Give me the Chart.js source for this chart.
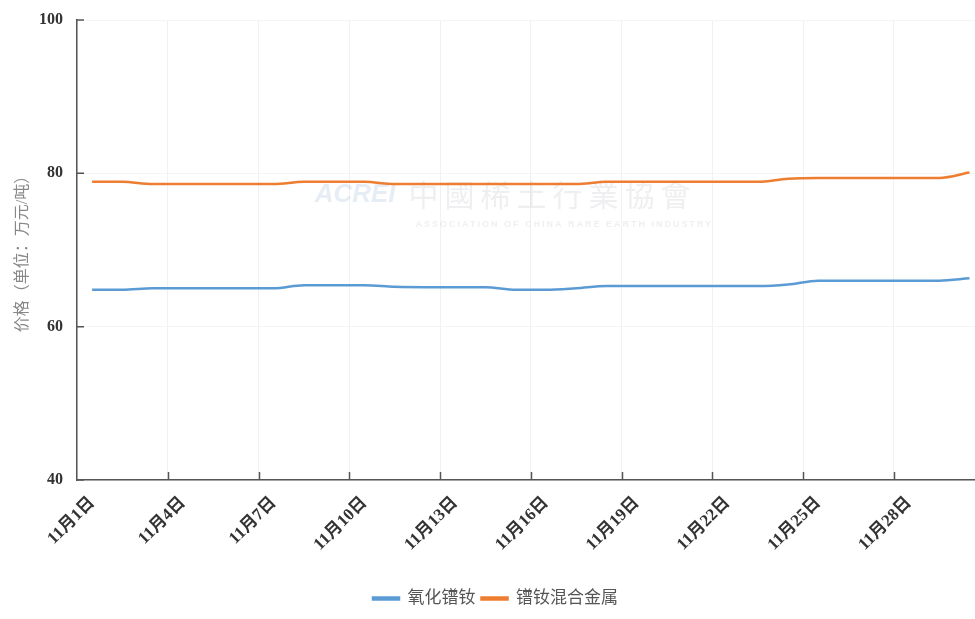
<!DOCTYPE html>
<html lang="zh">
<head>
<meta charset="utf-8">
<title>氧化镨钕 / 镨钕混合金属</title>
<script src="https://cdn.jsdelivr.net/npm/chart.js@4"></script>
<style>
    html, body { margin: 0; padding: 0; background: #fff; overflow: hidden; }
    #caixa { width: 975px; height: 619px; overflow: hidden; }
</style>
</head>
<body>
<div id="caixa"><canvas id="graficoPrecos" width="997" height="619"></canvas></div>
<script>
const dias = [
    '11月1日', '11月2日', '11月3日', '11月4日', '11月5日', '11月6日', '11月7日', '11月8日', '11月9日', '11月10日',
    '11月11日', '11月12日', '11月13日', '11月14日', '11月15日', '11月16日', '11月17日', '11月18日', '11月19日', '11月20日',
    '11月21日', '11月22日', '11月23日', '11月24日', '11月25日', '11月26日', '11月27日', '11月28日', '11月29日', '11月30日'
];

const oxidoPrNd = [
    64.8, 64.8, 65.0, 65.0, 65.0, 65.0, 65.0, 65.4, 65.4, 65.4,
    65.2, 65.15, 65.15, 65.15, 64.8, 64.8, 65.0, 65.3, 65.3, 65.3,
    65.3, 65.3, 65.3, 65.5, 66.0, 66.0, 66.0, 66.0, 66.0, 66.3
];

const metalPrNd = [
    78.9, 78.9, 78.6, 78.6, 78.6, 78.6, 78.6, 78.9, 78.9, 78.9,
    78.6, 78.6, 78.6, 78.6, 78.6, 78.6, 78.6, 78.9, 78.9, 78.9,
    78.9, 78.9, 78.9, 79.3, 79.4, 79.4, 79.4, 79.4, 79.4, 80.1
];

const nomesSeries = ['氧化镨钕', '镨钕混合金属'];
const ticksY = [40, 60, 80, 100];

// marcas curtas para dentro, como no original
const marcasInternas = {
    id: 'marcasInternas',
    afterDraw(chart) {
        const ctx = chart.ctx;
        const area = chart.chartArea;
        const x = chart.scales.x;
        const y = chart.scales.y;
        ctx.save();
        ctx.strokeStyle = '#555';
        ctx.lineWidth = 1.5;
        ctx.beginPath();
        y.ticks.forEach((t, i) => {
            const py = y.getPixelForTick(i);
            ctx.moveTo(area.left, py);
            ctx.lineTo(area.left + 7, py);
        });
        const meia = (x.getPixelForValue(1) - x.getPixelForValue(0)) / 2;
        dias.forEach((d, i) => {
            if (i === 0 || i % 3 !== 0) return;
            const px = Math.round(x.getPixelForValue(i) - meia) + 0.5;
            ctx.moveTo(px, area.bottom);
            ctx.lineTo(px, area.bottom - 8);
        });
        ctx.stroke();
        ctx.restore();
    }
};

// marca d'água clarinha no meio do gráfico
const marcaDagua = {
    id: 'marcaDagua',
    beforeDatasetsDraw(chart) {
        const ctx = chart.ctx;
        const area = chart.chartArea;
        const cx = area.left + (area.right - area.left) * 0.47;
        const cy = area.top + (area.bottom - area.top) * 0.38;
        ctx.save();
        ctx.textBaseline = 'middle';
        ctx.fillStyle = 'rgba(170, 190, 220, 0.28)';
        ctx.font = 'italic bold 26px "Liberation Sans"';
        ctx.textAlign = 'right';
        ctx.fillText('ACREI', cx - 108, cy);
        ctx.fillStyle = 'rgba(180, 180, 190, 0.22)';
        ctx.font = '30px "Noto Sans CJK TC"';
        ctx.textAlign = 'left';
        ctx.letterSpacing = '6px';
        ctx.fillText('中國稀土行業協會', cx - 95, cy);
        ctx.font = 'bold 9px "Liberation Sans"';
        ctx.letterSpacing = '2px';
        ctx.fillText('ASSOCIATION OF CHINA RARE EARTH INDUSTRY', cx - 88, cy + 30);
        ctx.restore();
    }
};

function criarGrafico() {
    const ctx = document.getElementById('graficoPrecos').getContext('2d');

    new Chart(ctx, {
        type: 'line',
        data: {
            labels: dias,
            datasets: [
                {
                    label: nomesSeries[0],
                    data: oxidoPrNd,
                    borderColor: '#5b9bd5',
                    backgroundColor: '#5b9bd5',
                    borderWidth: 2.5,
                    pointRadius: 0,
                    cubicInterpolationMode: 'monotone'
                },
                {
                    label: nomesSeries[1],
                    data: metalPrNd,
                    borderColor: '#ed7d31',
                    backgroundColor: '#ed7d31',
                    borderWidth: 2.5,
                    pointRadius: 0,
                    cubicInterpolationMode: 'monotone'
                }
            ]
        },
        options: {
            responsive: false,
            animation: false,
            layout: { padding: { top: 20, right: 6, bottom: 2, left: 0 } },
            plugins: {
                tooltip: { enabled: false },
                legend: {
                    position: 'bottom',
                    labels: {
                        boxWidth: 26,
                        boxHeight: 2,
                        padding: 6,
                        color: '#555',
                        font: { family: '"Liberation Serif", "Noto Sans CJK SC"', size: 17 }
                    }
                }
            },
            scales: {
                x: {
                    offset: true,
                    grid: {
                        offset: true,
                        drawTicks: false,
                        color: (c) => (c.index % 3 === 0 ? '#f1f1f1' : 'rgba(0,0,0,0)')
                    },
                    border: { color: '#555', width: 1.5 },
                    ticks: {
                        autoSkip: false,
                        maxRotation: 45,
                        minRotation: 45,
                        padding: 13,
                        color: '#333',
                        font: { family: '"Liberation Serif", "Noto Sans CJK SC"', size: 17, weight: 'bold' },
                        callback: (v, i) => (i % 3 === 0 ? dias[i] : '')
                    },
                    afterFit: (scale) => { scale.height = 104; }
                },
                y: {
                    min: ticksY[0],
                    max: ticksY[ticksY.length - 1],
                    grid: { drawTicks: false, color: '#f4f4f4' },
                    border: { color: '#555', width: 1.5 },
                    ticks: {
                        stepSize: 20,
                        padding: 14,
                        color: '#333',
                        font: { family: '"Liberation Serif"', size: 16, weight: 'bold', lineHeight: 0.75 }
                    },
                    title: {
                        display: true,
                        text: '价格（单位：万元/吨）',
                        color: '#888',
                        padding: { top: 13, bottom: 0 },
                        font: { family: '"Liberation Serif", "Noto Sans CJK SC"', size: 16 }
                    },
                    afterFit: (scale) => { scale.width = 77; }
                }
            }
        },
        plugins: [marcaDagua, marcasInternas]
    });
}

window.onload = criarGrafico;
</script>
</body>
</html>
